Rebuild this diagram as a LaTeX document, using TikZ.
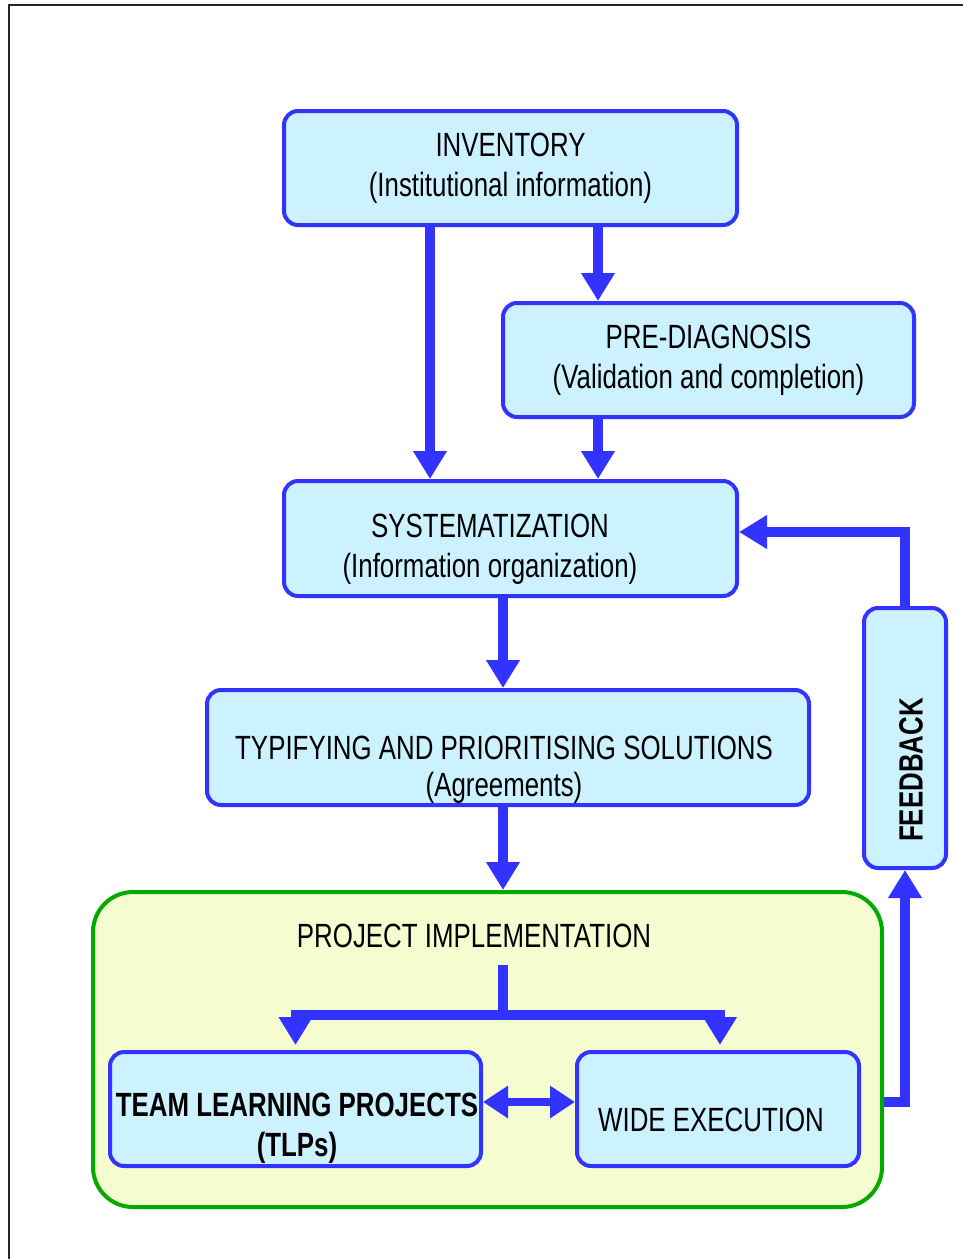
\documentclass[tikz,border=0pt]{standalone}
\usepackage{fontspec}
\setsansfont{Liberation Sans}[FakeStretch=0.77]
\usepackage{tikz}
\usetikzlibrary{positioning, calc, arrows.meta}

\definecolor{boxblue}{RGB}{51,51,255}
\definecolor{boxfill}{RGB}{204,242,255}
\definecolor{implgreen}{RGB}{0,170,0}
\definecolor{implfill}{RGB}{245,253,208}

\begin{document}
\begin{tikzpicture}[x=0.5pt, y={(0pt,-0.5pt)}, font=\sffamily\fontsize{16.8}{20}\selectfont]
        \tikzstyle{stage}=[draw=boxblue, line width=2pt, fill=boxfill, rounded corners=7pt, align=center, inner sep=0pt];
        \tikzstyle{txt}=[align=center, inner sep=0pt];
        \tikzstyle{bold}=[font=\sffamily\bfseries\fontsize{16.8}{20}\selectfont];
        \tikzstyle{flow}=[color=boxblue, line width=5pt, -{Triangle[length=14pt, width=16pt]}];
        \tikzstyle{both}=[color=boxblue, line width=4pt, {Triangle[length=12.5pt, width=15.5pt]}-{Triangle[length=12.5pt, width=15.5pt]}];
        \useasboundingbox (0,0) rectangle (963,1259);
        \draw[line width=1pt, black!85] (8.5,1259) -- (8.5,5) -- (963,5);

        \node[stage, minimum width=226.5pt, minimum height=57pt] (inv) at (510.5,168) {INVENTORY\\(Institutional information)};
        \node[stage, minimum width=205.5pt, minimum height=57pt] (prediag) at (708.5,360) {PRE-DIAGNOSIS\\(Validation and completion)};
        \node[stage, minimum width=226.5pt, minimum height=57.5pt] (syst) at (510.5,538.5) {};
        \node[txt] (systtext) at (490,549) {SYSTEMATIZATION\\(Information organization)};
        \node[stage, minimum width=301pt, minimum height=57.5pt] (typ) at (508,747.5) {};
        \node[txt, font=\sffamily\fontsize{16.8}{18.5}\selectfont] (typtext) at (504,770) {TYPIFYING AND PRIORITISING SOLUTIONS\\(Agreements)};
        \node[stage, minimum width=41pt, minimum height=130pt] (feedback) at (905,738) {};
        \node[bold, rotate=90] (fbtext) at (911,770) {FEEDBACK};
        \node[draw=implgreen, line width=2pt, fill=implfill, rounded corners=20pt, minimum width=394.5pt, minimum height=157.5pt] (impl) at (487.5,1049.5) {};
        \node (impltitle) at (474,936) {PROJECT IMPLEMENTATION};
        \node[stage, minimum width=185.5pt, minimum height=57pt] (tlp) at (295.5,1109) {};
        \node[txt, bold] (tlptext) at (297,1128) {TEAM LEARNING PROJECTS\\(TLPs)};
        \node[stage, minimum width=141pt, minimum height=57pt] (wide) at (718,1109) {};
        \node[txt] (widetext) at (711,1120) {WIDE EXECUTION};
        \coordinate (split) at (503,1015);

        \draw[flow] ([xshift=-40.25pt]inv.south) -- ([xshift=-40.25pt]inv.south |- syst.north);
        \draw[flow] ([xshift=43.75pt]inv.south) -- ([xshift=43.75pt]inv.south |- prediag.north);
        \draw[flow] ([xshift=-55.25pt]prediag.south) -- ([xshift=-55.25pt]prediag.south |- syst.north);
        \draw[flow] ([xshift=-2.5pt]typ.north |- syst.south) -- ([xshift=-2.5pt]typ.north);
        \draw[flow] ([xshift=-2.5pt]typ.south) -- ([xshift=-2.5pt]typ.south |- impl.north);
        \draw[color=boxblue, line width=5pt] ([yshift=-5pt]impltitle.south -| split) -- (split);
        \draw[flow] (split) -| ([yshift=2.5pt]tlp.north);
        \draw[flow] (split) -| ([xshift=1pt, yshift=2.5pt]wide.north);
        \draw[both] ([yshift=3.5pt]tlp.east) -- ([yshift=3.5pt]wide.west);
        \draw[flow] ([yshift=-26pt]impl.east) -| (feedback.south);
        \draw[flow] (feedback.north) |- ([yshift=3.25pt]syst.east);
\end{tikzpicture}
\end{document}
